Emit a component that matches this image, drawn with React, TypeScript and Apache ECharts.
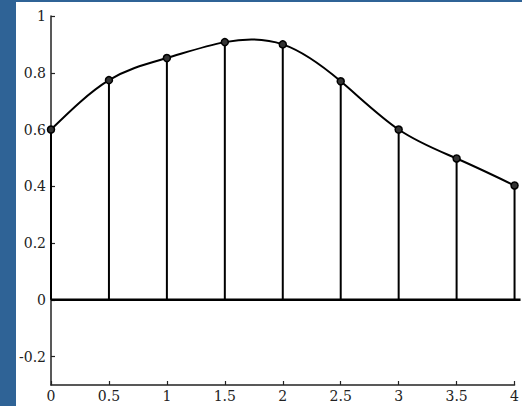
import React, { useEffect, useRef } from "react";
import * as echarts from "echarts";

const xValues = [0, 0.5, 1, 1.5, 2, 2.5, 3, 3.5, 4];
const yValues = [0.6, 0.774, 0.852, 0.908, 0.9, 0.77, 0.6, 0.498, 0.403];
const yTicks = [-0.2, 0, 0.2, 0.4, 0.6, 0.8, 1];

const FONT = "DejaVu Serif";
const FONT_SIZE = 14;

// natural cubic spline slopes at each node (used only to draw the curve shape)
function splineSlopes(xs: number[], ys: number[]): number[] {
  const n = xs.length - 1;
  const h: number[] = [];
  for (let i = 0; i < n; i++) h.push(xs[i + 1] - xs[i]);
  const M = new Array(n + 1).fill(0);
  if (n > 1) {
    const a: number[] = [], b: number[] = [], c: number[] = [], d: number[] = [];
    for (let i = 1; i < n; i++) {
      a.push(h[i - 1]);
      b.push(2 * (h[i - 1] + h[i]));
      c.push(h[i]);
      d.push(6 * ((ys[i + 1] - ys[i]) / h[i] - (ys[i] - ys[i - 1]) / h[i - 1]));
    }
    const m = b.length;
    for (let i = 1; i < m; i++) {
      const w = a[i] / b[i - 1];
      b[i] -= w * c[i - 1];
      d[i] -= w * d[i - 1];
    }
    const sol = new Array(m).fill(0);
    sol[m - 1] = d[m - 1] / b[m - 1];
    for (let i = m - 2; i >= 0; i--) sol[i] = (d[i] - c[i] * sol[i + 1]) / b[i];
    for (let i = 1; i < n; i++) M[i] = sol[i - 1];
  }
  const slopes: number[] = [];
  for (let i = 0; i < n; i++) {
    slopes.push((ys[i + 1] - ys[i]) / h[i] - (h[i] * (2 * M[i] + M[i + 1])) / 6);
  }
  slopes.push((ys[n] - ys[n - 1]) / h[n - 1] + (h[n - 1] * (M[n - 1] + 2 * M[n])) / 6);
  return slopes;
}

export default function App() {
  const ref = useRef<HTMLDivElement>(null);
  useEffect(() => {
    if (!ref.current) return;
    const chart = echarts.init(ref.current, null, { renderer: "svg" });
    const points = xValues.map((x, i) => [x, yValues[i]]);
    const slopes = splineSlopes(xValues, yValues);
    const axisCommon = {
      splitLine: { show: false },
      axisLine: { show: true, onZero: false, lineStyle: { color: "#222", width: 1.5 } },
    };
    chart.setOption({
      animation: false,
      backgroundColor: "#ffffff",
      textStyle: { fontFamily: FONT },
      grid: { left: 35, right: 5, top: 14, bottom: 21, containLabel: false },
      xAxis: {
        type: "value",
        min: 0,
        max: 4,
        interval: 0.5,
        ...axisCommon,
        axisTick: { show: true, inside: true, length: 4, lineStyle: { color: "#222", width: 1.2 } },
        axisLabel: { fontFamily: FONT, fontSize: FONT_SIZE, color: "#222", margin: 4 },
      },
      yAxis: {
        type: "value",
        min: -0.3,
        max: 1,
        ...axisCommon,
        axisTick: {
          show: true,
          inside: true,
          length: 4,
          customValues: yTicks,
          lineStyle: { color: "#222", width: 1.2 },
        },
        axisLabel: {
          fontFamily: FONT,
          fontSize: FONT_SIZE,
          color: "#222",
          margin: 5,
          customValues: yTicks,
          formatter: (v: number) => String(Math.round(v * 10) / 10),
        },
      },
      series: [
        {
          type: "custom",
          clip: false,
          data: points,
          renderItem: (params: any, api: any) => {
            const i = params.dataIndex;
            const x = api.value(0);
            const y = api.value(1);
            const p0 = api.coord([x, 0]);
            const p1 = api.coord([x, y]);
            const children: any[] = [
              {
                type: "line",
                shape: { x1: p0[0], y1: p0[1], x2: p1[0], y2: p1[1] },
                style: { stroke: "#000", lineWidth: 2 },
              },
            ];
            if (i === 0) {
              const cs = params.coordSys;
              children.push({
                type: "line",
                shape: { x1: p0[0], y1: p0[1], x2: cs.x + cs.width + 6, y2: p0[1] },
                style: { stroke: "#000", lineWidth: 2.5 },
              });
            }
            if (i < xValues.length - 1) {
              const x1 = xValues[i + 1];
              const y1 = yValues[i + 1];
              const hh = (x1 - x) / 3;
              const c1 = api.coord([x + hh, y + hh * slopes[i]]);
              const c2 = api.coord([x1 - hh, y1 - hh * slopes[i + 1]]);
              const e = api.coord([x1, y1]);
              children.push({
                type: "bezierCurve",
                shape: {
                  x1: p1[0], y1: p1[1], x2: e[0], y2: e[1],
                  cpx1: c1[0], cpy1: c1[1], cpx2: c2[0], cpy2: c2[1],
                },
                style: { stroke: "#000", lineWidth: 2, fill: null },
              });
            }
            return { type: "group", children };
          },
          z: 1,
        },
        {
          type: "scatter",
          data: points,
          clip: false,
          symbol: "circle",
          symbolSize: 7,
          itemStyle: { color: "#333", borderColor: "#000", borderWidth: 1.5, opacity: 1 },
          z: 3,
        },
      ],
    });
    return () => chart.dispose();
  }, []);
  return (
    <div
      style={{
        position: "fixed",
        left: 0,
        top: 0,
        width: 522,
        height: 406,
        background: "#2f6396",
      }}
    >
      <div
        ref={ref}
        style={{ position: "absolute", left: 16, top: 2, width: 506, height: 404 }}
      />
    </div>
  );
}
